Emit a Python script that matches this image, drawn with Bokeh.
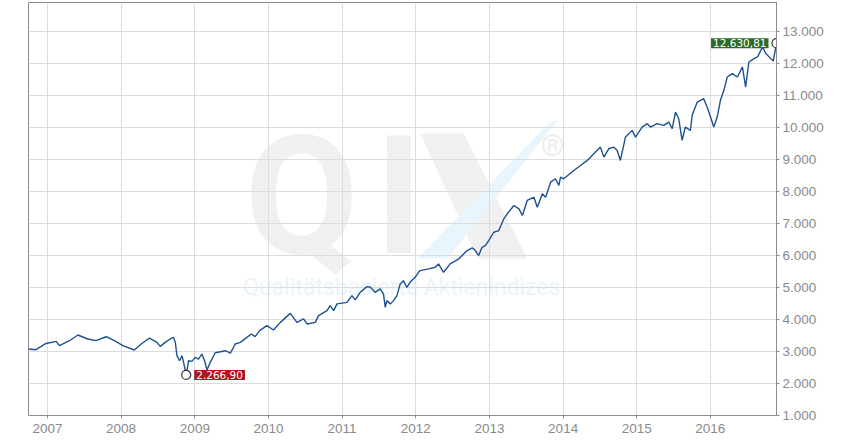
import pandas as pd
from bokeh.plotting import figure
from bokeh.models import Range1d, FixedTicker, Label, PolyAnnotation, ColumnDataSource
from bokeh.embed import file_html
from bokeh.resources import INLINE

# ---------------- data ----------------
dates = [
    "2006-09-29", "2006-11-05", "2006-12-25", "2007-02-13", "2007-03-01", "2007-04-20",
    "2007-06-01", "2007-07-20", "2007-08-30", "2007-10-19", "2007-11-29", "2008-01-10",
    "2008-03-07", "2008-04-10", "2008-05-21", "2008-06-27", "2008-07-13", "2008-08-07",
    "2008-09-01", "2008-09-17", "2008-09-26", "2008-10-04", "2008-10-17", "2008-10-29",
    "2008-11-06", "2008-11-19", "2008-12-01", "2008-12-17", "2009-01-03", "2009-01-19",
    "2009-02-05", "2009-02-18", "2009-03-02", "2009-03-18", "2009-04-12", "2009-05-07",
    "2009-06-01", "2009-06-26", "2009-07-20", "2009-08-14", "2009-09-16", "2009-10-08",
    "2009-10-27", "2009-11-18", "2009-12-24", "2010-01-26", "2010-03-01", "2010-04-19",
    "2010-05-22", "2010-06-24", "2010-07-11", "2010-08-21", "2010-09-06", "2010-10-18",
    "2010-11-03", "2010-11-20", "2010-12-07", "2011-01-25", "2011-02-19", "2011-03-07",
    "2011-04-01", "2011-05-04", "2011-05-21", "2011-06-14", "2011-07-09", "2011-07-25",
    "2011-08-03", "2011-08-11", "2011-08-28", "2011-09-13", "2011-09-30", "2011-10-16",
    "2011-11-01", "2011-11-18", "2011-12-04", "2011-12-29", "2012-01-15", "2012-01-23",
    "2012-03-05", "2012-04-07", "2012-04-23", "2012-05-18", "2012-06-20", "2012-08-01",
    "2012-09-12", "2012-10-07", "2012-10-23", "2012-11-08", "2012-11-25", "2012-12-11",
    "2012-12-28", "2013-01-22", "2013-02-16", "2013-03-13", "2013-03-30", "2013-05-02",
    "2013-05-27", "2013-06-13", "2013-07-07", "2013-08-09", "2013-08-26", "2013-09-20",
    "2013-10-06", "2013-10-31", "2013-11-24", "2013-12-11", "2013-12-19", "2014-01-04",
    "2014-02-23", "2014-03-28", "2014-05-01", "2014-06-02", "2014-07-05", "2014-07-22",
    "2014-08-16", "2014-09-09", "2014-09-26", "2014-10-12", "2014-11-06", "2014-12-09",
    "2014-12-26", "2015-01-11", "2015-01-28", "2015-02-22", "2015-03-10", "2015-04-12",
    "2015-05-15", "2015-06-09", "2015-06-26", "2015-07-12", "2015-07-28", "2015-08-14",
    "2015-08-30", "2015-09-24", "2015-10-03", "2015-10-28", "2015-11-29", "2015-12-16",
    "2016-01-02", "2016-01-18", "2016-02-04", "2016-02-20", "2016-03-08", "2016-03-25",
    "2016-04-19", "2016-05-14", "2016-06-08", "2016-06-24", "2016-07-10", "2016-08-04",
    "2016-08-22", "2016-09-16", "2016-10-02", "2016-10-27", "2016-11-08", "2016-11-24",
]
values = [
    3077, 3055, 3250, 3315, 3180, 3336,
    3515, 3390, 3340, 3460, 3336, 3180,
    3045, 3233, 3420, 3284, 3160, 3284,
    3390, 3440, 3284, 2868, 2711, 2868,
    2658, 2266.90, 2711, 2690, 2815, 2764,
    2920, 2711, 2420, 2658, 2960, 2990,
    3024, 2950, 3233, 3284, 3440, 3546,
    3462, 3650, 3806, 3671, 3909, 4190,
    3909, 4015, 3859, 3909, 4118, 4275,
    4431, 4275, 4485, 4535, 4744, 4610,
    4847, 5026, 5004, 4847, 4954, 4797,
    4378, 4588, 4485, 4588, 4744, 5110,
    5213, 5004, 5160, 5317, 5473, 5526,
    5579, 5630, 5735, 5473, 5735, 5892,
    6152, 6236, 6152, 5996, 6255, 6308,
    6464, 6724, 6777, 7143, 7300, 7560,
    7456, 7247, 7716, 7820, 7507, 7925,
    7820, 8288, 8394, 8185, 8445, 8394,
    8654, 8810, 8967, 9176, 9383, 9070,
    9333, 9383, 9280, 8967, 9696, 9906,
    9696, 9852, 10009, 10115, 10009, 10115,
    10062, 10165, 9958, 10478, 10271, 9593,
    10009, 9906, 10375, 10791, 10896, 10634,
    10322, 10009, 10322, 10844, 11157, 11573,
    11679, 11573, 11886, 11260, 12042, 12147,
    12199, 12512, 12304, 12147, 12072, 12630.81,
]

min_date, min_value, min_label = "2008-11-19", 2266.90, "2.266,90"
max_date, max_value, max_label = "2016-11-24", 12630.81, "12.630,81"

year_ticks = [2007, 2008, 2009, 2010, 2011, 2012, 2013, 2014, 2015, 2016]
year_labels = ["2007", "2008", "2009", "2010", "2011", "2012", "2013", "2014", "2015", "2016"]
y_ticks = [1000, 2000, 3000, 4000, 5000, 6000, 7000, 8000, 9000, 10000, 11000, 12000, 13000]
y_tick_labels = ["1.000", "2.000", "3.000", "4.000", "5.000", "6.000", "7.000",
                 "8.000", "9.000", "10.000", "11.000", "12.000", "13.000"]

watermark_title = "Qualitätsbasierte Aktienindizes"


def ms(s):
    return pd.Timestamp(s).value / 1e6


xs = [ms(d) for d in dates]
src = ColumnDataSource(dict(x=xs, y=values))

p = figure(width=852, height=443, x_axis_type="datetime", y_axis_location="right",
           output_backend="svg", toolbar_location=None,
           x_range=Range1d(xs[0], xs[-1]), y_range=Range1d(1000, 13900),
           min_border_left=28, min_border_right=76, min_border_top=2, min_border_bottom=28)
p.background_fill_color = "white"
p.border_fill_color = "white"
p.outline_line_color = "#8c8c8c"
p.outline_line_width = 1

# axes
tick_color = "#8c8c8c"
label_color = "#8a8a8a"
year_ms = [ms(f"{y}-01-01") for y in year_ticks]
p.xaxis.ticker = FixedTicker(ticks=year_ms)
p.xaxis.major_label_overrides = {t: l for t, l in zip(year_ms, year_labels)}
p.yaxis.ticker = FixedTicker(ticks=y_ticks)
p.yaxis.major_label_overrides = {t: l for t, l in zip(y_ticks, y_tick_labels)}
for ax in (p.xaxis[0], p.yaxis[0]):
    ax.axis_line_color = tick_color
    ax.major_tick_line_color = tick_color
    ax.major_tick_out = 3
    ax.major_tick_in = 0
    ax.minor_tick_line_color = None
    ax.major_label_text_color = label_color
    ax.major_label_text_font = "Liberation Sans"
    ax.major_label_text_font_size = "13.5px"
    ax.major_label_standoff = 3
p.xaxis.major_label_standoff = 5

p.xgrid.grid_line_color = "#dcdcdc"
p.ygrid.grid_line_color = "#dcdcdc"

# watermark
wm_gray = "#f0f0f0"
wm_blue = "#e9f5fc"
p.add_layout(Label(x=ms("2010-06-14"), y=7840, text="Q", text_align="center",
                   text_baseline="alphabetic", text_font="Roboto", text_font_style="bold",
                   text_font_size="165px", text_color=wm_gray, level="image"))
p.add_layout(Label(x=ms("2011-10-11"), y=7840, text="I", text_align="center",
                   text_baseline="alphabetic", text_font="Roboto", text_font_style="bold",
                   text_font_size="165px", text_color=wm_gray, level="image"))
p.add_layout(PolyAnnotation(xs=[ms("2012-01-24"), ms("2012-08-25"), ms("2013-07-08"), ms("2012-11-03")],
                            ys=[9812, 9812, 5902, 5902], fill_color=wm_gray, fill_alpha=1,
                            line_alpha=0, level="image"))
p.add_layout(PolyAnnotation(xs=[ms("2012-01-09"), ms("2012-06-07"), ms("2013-12-04"), ms("2013-10-26")],
                            ys=[5902, 5902, 10218, 10155], fill_color=wm_blue, fill_alpha=1,
                            line_alpha=0, level="image"))
p.add_layout(Label(x=ms("2013-11-09"), y=9436, text="®", text_align="center",
                   text_baseline="middle", text_font="Roboto", text_font_size="30px",
                   text_color="#ececec", level="image"))
p.add_layout(Label(x=ms("2009-08-28"), y=5000, text=watermark_title, text_align="left",
                   text_baseline="alphabetic", text_font="Roboto", text_font_size="23px",
                   text_color=wm_blue, level="image"))

# series
p.line("x", "y", source=src, line_color="#1d5190", line_width=1.4)

# min / max markers
for d, v, lab, col, align, off in [(min_date, min_value, min_label, "#b5121b", "left", 8),
                                   (max_date, max_value, max_label, "#2f6a28", "right", -8)]:
    p.scatter([ms(d)], [v], size=9, marker="circle", fill_color="white",
              line_color="#333333", line_width=1.2)
    p.add_layout(Label(x=ms(d), y=v, text=lab, text_align=align, text_baseline="middle",
                       x_offset=off, text_font="DejaVu Sans", text_font_size="10.5px",
                       text_color="white", background_fill_color=col,
                       padding=dict(left=2, right=2, top=1, bottom=1)))

open("out.html", "w").write(file_html(p, INLINE))
